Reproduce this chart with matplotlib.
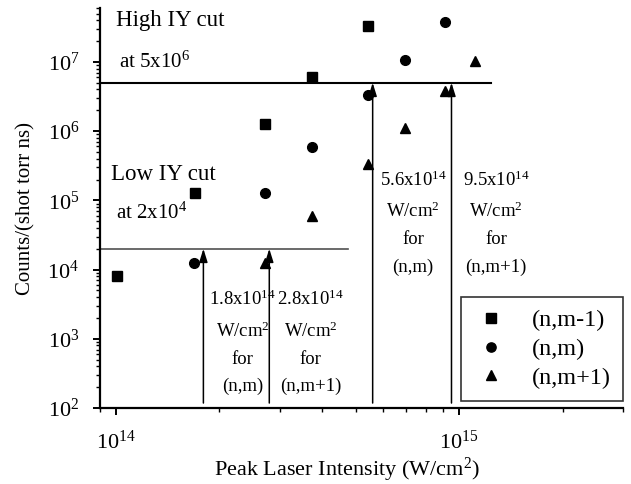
import numpy as np
import matplotlib
matplotlib.use("Agg")
import matplotlib.pyplot as plt

plt.rcParams["font.family"] = ["Liberation Serif", "DejaVu Serif"]
plt.rcParams["mathtext.fontset"] = "custom"
plt.rcParams["mathtext.rm"] = "Liberation Serif"
plt.rcParams["mathtext.it"] = "Liberation Serif:italic"

# ion yields per charge state vs peak intensity
x_nm1 = [1.01e14, 1.70e14, 2.72e14, 3.73e14, 5.43e14]
y_nm1 = [8.1e3, 1.26e5, 1.26e6, 6.0e6, 3.3e7]

x_nm = [1.69e14, 2.72e14, 3.73e14, 5.43e14, 6.96e14, 9.1e14]
y_nm = [1.26e4, 1.26e5, 5.9e5, 3.3e6, 1.07e7, 3.8e7]

x_np1 = [2.72e14, 3.73e14, 5.43e14, 6.96e14, 9.1e14, 1.11e15]
y_np1 = [1.26e4, 6.0e4, 3.4e5, 1.1e6, 3.8e6, 1.03e7]

high_cut = 5e6
low_cut = 2e4
# threshold intensities for each cut
arrow_x = [1.8e14, 2.8e14, 5.6e14, 9.5e14]
arrow_top = [low_cut, low_cut, high_cut, high_cut]
arrow_text = ["1.8x10$^{14}$\nW/cm$^{2}$\nfor\n(n,m)",
              "2.8x10$^{14}$\nW/cm$^{2}$\nfor\n(n,m+1)",
              "5.6x10$^{14}$\nW/cm$^{2}$\nfor\n(n,m)",
              "9.5x10$^{14}$\nW/cm$^{2}$\nfor\n(n,m+1)"]

fig = plt.figure(figsize=(6.31, 4.84), dpi=100)
ax = fig.add_axes([0.1585, 0.157, 0.8288, 0.8264])

ax.set_xscale("log")
ax.set_yscale("log")
ax.set_xlim(9e13, 3e15)
ax.set_ylim(1e2, 6e7)

ax.plot(x_nm1, y_nm1, "s", color="k", ms=7, label="(n,m-1)")
ax.plot(x_nm, y_nm, "o", color="k", ms=7, label="(n,m)")
ax.plot(x_np1, y_np1, "^", color="k", ms=7.5, label="(n,m+1)")

# cut levels
ax.plot([9e13, 1.24e15], [high_cut, high_cut], color="k", lw=1.5)
ax.plot([9e13, 4.74e14], [low_cut, low_cut], color="#505050", lw=1.2)

for xa, top in zip(arrow_x, arrow_top):
    ax.annotate("", xy=(xa, top), xytext=(xa, 1.18e2),
                arrowprops=dict(arrowstyle="-|>,head_length=0.8,head_width=0.25",
                                color="k", lw=1.1, mutation_scale=10,
                                shrinkA=0, shrinkB=0))

text_x = [2.34e14, 3.7e14, 7.35e14, 1.28e15]
text_top = [5.1e3, 5.1e3, 2.7e5, 2.7e5]
for tx, ty, s in zip(text_x, text_top, arrow_text):
    ax.text(tx, ty, s, ha="center", va="top", fontsize=13.5,
            linespacing=1.78)

ax.text(1.0e14, 3.9e7, "High IY cut", fontsize=16.5, va="center")
ax.text(1.02e14, 1.0e7, "at 5x10$^{6}$", fontsize=15, va="center")
ax.text(0.97e14, 2.4e5, "Low IY cut", fontsize=16.5, va="center")
ax.text(1.0e14, 6.5e4, "at 2x10$^{4}$", fontsize=15, va="center")

for sp in ["top", "right"]:
    ax.spines[sp].set_visible(False)
for sp in ["left", "bottom"]:
    ax.spines[sp].set_linewidth(1.6)

ax.tick_params(which="major", direction="out", length=5, width=1.4,
               labelsize=16, pad=10)
ax.tick_params(which="minor", direction="out", length=3, width=1.0)
ax.tick_params(axis="x", which="major", pad=11)

ax.set_xlabel("Peak Laser Intensity (W/cm$^{2}$)", fontsize=16)
ax.set_ylabel("Counts/(shot torr ns)", fontsize=15)
ax.xaxis.set_label_coords(0.472, -0.12)
ax.yaxis.set_label_coords(-0.124, 0.5)

leg = ax.legend(loc="lower right", bbox_to_anchor=(1.0, 0.0175),
                borderaxespad=0, fontsize=17.5, frameon=True, fancybox=False,
                handlelength=1.4, handletextpad=1.0, labelspacing=0.28,
                borderpad=0.5, markerscale=0.95)
leg.get_frame().set_edgecolor("k")
leg.get_frame().set_linewidth(1.2)

fig.savefig("out.png", dpi=100)
